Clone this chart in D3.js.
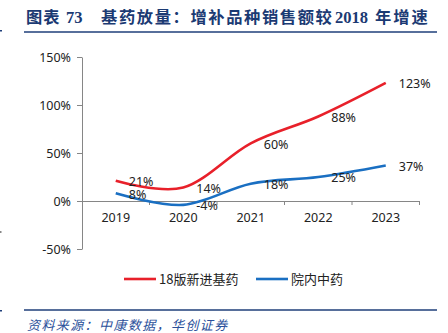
<!DOCTYPE html>
<html>
<head>
<meta charset="utf-8">
<script src="https://cdn.jsdelivr.net/npm/d3@7"></script>
<style>
  html, body { margin: 0; padding: 0; background: #fff; }
  svg { display: block; }
</style>
</head>
<body>
<div id="chart"></div>
<script>
// 数据
const years = ["2019", "2020", "2021", "2022", "2023"];
const newEssential = [21, 14, 60, 88, 123];   // 18版新进基药
const hospitalTcm = [8, -4, 18, 25, 37];      // 院内中药
const yTicks = [-50, 0, 50, 100, 150];
const seriesNames = ["18版新进基药", "院内中药"];
const seriesColors = ["#e8202a", "#1a6fc2"];

const width = 448;
const height = 333;
const svg = d3.select("#chart").append("svg")
    .attr("width", width)
    .attr("height", height);

// 标题
const titleColor = "#1b3a73";
const cjk = "'Noto Sans CJK SC', sans-serif";
const serif = "'Liberation Serif', 'DejaVu Serif', serif";
const titleParts = [
    { t: "图表", x: 26, f: cjk, ls: 1 },
    { t: "73", x: 66, f: serif, ls: 0 },
    { t: "基药放量：增补品种销售额较", x: 101, f: cjk, ls: 1.6 },
    { t: "2018", x: 335, f: serif, ls: 0 },
    { t: "年增速", x: 375, f: cjk, ls: 2 }
];
svg.selectAll("text.title")
    .data(titleParts)
    .enter()
    .append("text")
    .attr("class", "title")
    .attr("x", d => d.x)
    .attr("y", 23)
    .attr("font-family", d => d.f)
    .attr("font-weight", "bold")
    .attr("font-size", d => d.f === serif ? 16.5 : 16.3)
    .attr("letter-spacing", d => d.ls)
    .attr("fill", titleColor)
    .text(d => d.t);

svg.append("line")
    .attr("x1", 24).attr("x2", 437)
    .attr("y1", 32).attr("y2", 32)
    .attr("stroke", "#1f3f7a").attr("stroke-width", 1.5);

// 左侧小标记
svg.append("rect").attr("x", 0).attr("y", 30).attr("width", 2).attr("height", 1.5).attr("fill", "#1f3f7a");
svg.append("rect").attr("x", 0).attr("y", 231).attr("width", 1.5).attr("height", 2).attr("fill", "#888");
svg.append("rect").attr("x", 0).attr("y", 310).attr("width", 2).attr("height", 1.5).attr("fill", "#1f3f7a");

// 比例尺
const x = d3.scaleBand().domain(years).range([82, 419.5]).padding(0);
const cx = d => x(d) + x.bandwidth() / 2;
const y = d3.scaleLinear().domain([-50, 150]).range([249, 57]);

const axisColor = "#868686";
const labelFont = "'Noto Sans', 'DejaVu Sans', sans-serif";

// Y轴
const yAxis = svg.append("g")
    .attr("transform", "translate(82,0)")
    .call(d3.axisLeft(y).tickValues(yTicks).tickSize(5).tickSizeOuter(0).tickPadding(6)
        .tickFormat(d => d + "%"));
yAxis.select(".domain").attr("stroke", axisColor);
yAxis.selectAll(".tick line").attr("stroke", axisColor);
yAxis.selectAll(".tick text")
    .attr("font-family", labelFont)
    .attr("font-size", 12.5)
    .attr("fill", "#222");

// X轴 (在0%处)
const xAxis = svg.append("g")
    .attr("transform", `translate(0,${y(0)})`)
    .call(d3.axisBottom(x).tickSize(0).tickPadding(12));
xAxis.select(".domain").attr("stroke", axisColor);
xAxis.selectAll(".tick text")
    .attr("font-family", labelFont)
    .attr("font-size", 12.5)
    .attr("fill", "#222");
svg.selectAll("line.xtick")
    .data(years)
    .enter()
    .append("line")
    .attr("class", "xtick")
    .attr("x1", d => x(d) + x.bandwidth())
    .attr("x2", d => x(d) + x.bandwidth())
    .attr("y1", y(0))
    .attr("y2", y(0) + 4)
    .attr("stroke", axisColor);

// 折线
const series = [newEssential, hospitalTcm];
const line = d3.line()
    .x((d, i) => cx(years[i]))
    .y(d => y(d))
    .curve(d3.curveCardinal.tension(0));

svg.selectAll("path.series")
    .data(series)
    .enter()
    .append("path")
    .attr("class", "series")
    .attr("d", d => line(d))
    .attr("fill", "none")
    .attr("stroke", (d, i) => seriesColors[i])
    .attr("stroke-width", 2.6)
    .attr("stroke-linecap", "butt");

// 数据标签
series.forEach(s => {
    svg.selectAll(null)
        .data(s)
        .enter()
        .append("text")
        .attr("x", (d, i) => cx(years[i]) + 13)
        .attr("y", d => y(d) + 1)
        .attr("dy", "0.35em")
        .attr("font-family", labelFont)
        .attr("font-size", 12.5)
        .attr("fill", "#222")
        .text(d => d + "%");
});

// 图例
const legendItems = [
    { name: seriesNames[0], color: seriesColors[0], x: 124 },
    { name: seriesNames[1], color: seriesColors[1], x: 256 }
];
const lg = svg.selectAll("g.legend")
    .data(legendItems)
    .enter()
    .append("g")
    .attr("class", "legend")
    .attr("transform", d => `translate(${d.x},279)`);
lg.append("line")
    .attr("x1", 0).attr("x2", 32)
    .attr("stroke", d => d.color)
    .attr("stroke-width", 2.6);
lg.append("text")
    .attr("x", 35)
    .attr("dy", "0.35em")
    .attr("font-family", cjk)
    .attr("font-size", 13)
    .attr("fill", "#222")
    .text(d => d.name);

// 底部
svg.append("line")
    .attr("x1", 24).attr("x2", 437)
    .attr("y1", 310).attr("y2", 310)
    .attr("stroke", "#1f3f7a").attr("stroke-width", 1.5);

svg.append("text")
    .attr("x", 27)
    .attr("y", 329.5)
    .attr("font-family", cjk)
    .attr("font-style", "italic")
    .attr("font-size", 13)
    .attr("letter-spacing", 1.4)
    .attr("fill", "#2a4f9a")
    .text("资料来源：中康数据，华创证券");
</script>
</body>
</html>
